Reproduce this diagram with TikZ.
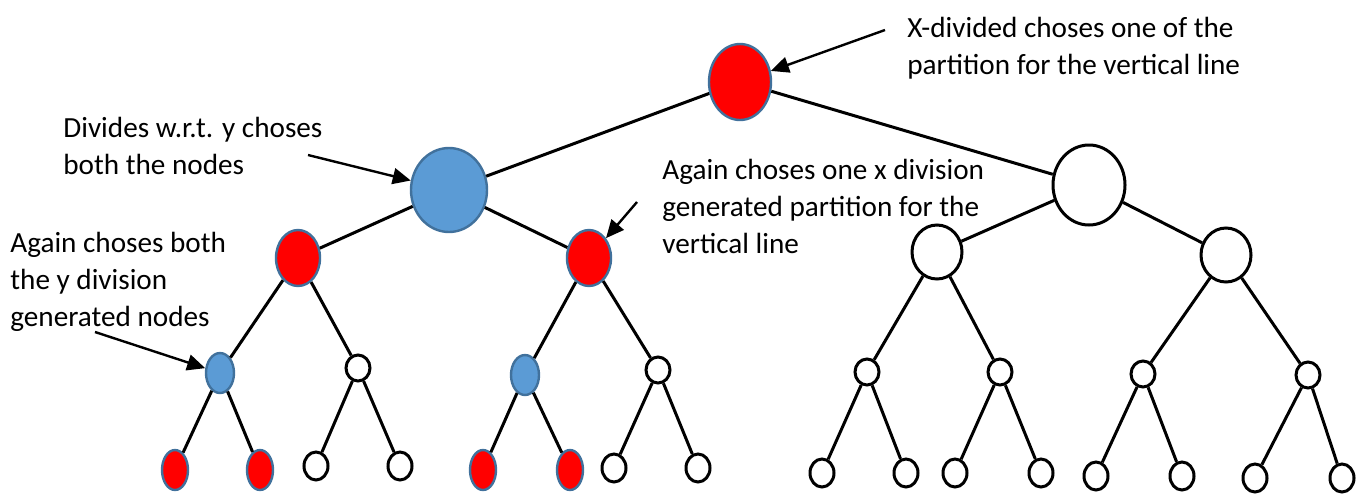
\documentclass[tikz,border=0pt]{standalone}
\usepackage{fontspec}
\setmainfont{Carlito}
\usetikzlibrary{shapes.geometric,arrows.meta}

\begin{document}
\begin{tikzpicture}[x=0.5pt, y=-0.5pt,
    every node/.style={inner sep=0pt},
    vtx/.style={ellipse, line width=1.2pt},
    redv/.style={vtx, draw=nodeedge, fill=red},
    bluev/.style={vtx, draw=nodeedge, fill=nodeblue},
    whitev/.style={vtx, draw=black, fill=white, line width=1.5pt},
    link/.style={black, line width=1.5pt},
    pointer/.style={-{Triangle[length=9pt, width=8pt]}, black, line width=1.2pt},
    note/.style={align=left, anchor=north west, font=\fontsize{14.6}{18.5}\selectfont}]
% Define colors
\definecolor{red}{RGB}{255,0,0}
\definecolor{nodeblue}{RGB}{91,155,213}
\definecolor{nodeedge}{RGB}{65,113,156}

\useasboundingbox (0,0) rectangle (1365,493);

% Top of the tree
\node[redv, minimum width=31pt, minimum height=38pt] (r) at (740,82) {};
\node[bluev, minimum width=38pt, minimum height=42pt] (a) at (449,190) {};
\node[whitev, minimum width=36pt, minimum height=40pt] (b) at (1089,185) {};

% Second level
\node[redv, minimum width=22pt, minimum height=28pt] (aa) at (298,258) {};
\node[redv, minimum width=22pt, minimum height=28pt] (ab) at (589,258) {};
\node[whitev, minimum width=25pt, minimum height=27pt] (ba) at (937,252) {};
\node[whitev, minimum width=25pt, minimum height=27pt] (bb) at (1226,255) {};

% Third level
\node[bluev, minimum width=14pt, minimum height=20pt] (aaa) at (220,373) {};
\node[whitev, minimum width=12pt, minimum height=13pt] (aab) at (358,368) {};
\node[bluev, minimum width=14pt, minimum height=20pt] (aba) at (525,375) {};
\node[whitev, minimum width=12pt, minimum height=13pt] (abb) at (658,370) {};
\node[whitev, minimum width=12pt, minimum height=13pt] (baa) at (867,372) {};
\node[whitev, minimum width=12pt, minimum height=13pt] (bab) at (1000,372) {};
\node[whitev, minimum width=12pt, minimum height=13pt] (bba) at (1143,374) {};
\node[whitev, minimum width=12pt, minimum height=13pt] (bbb) at (1308,375) {};

\draw[link] (r) -- (a);
\draw[link] (r) -- (b);
\draw[link] (a) -- (aa);
\draw[link] (a) -- (ab);
\draw[link] (b) -- (ba);
\draw[link] (b) -- (bb);
\foreach \p in {aa, ab, ba, bb} {
    \draw[link] (\p) -- (\p a);
    \draw[link] (\p) -- (\p b);
}

% Leaves
\foreach \x/\p/\s in {175/aaa/a, 260/aaa/b, 483/aba/a, 570/aba/b} {
    \node[redv, minimum width=13pt, minimum height=20pt] (\p\s) at (\x,470) {};
    \draw[link] (\p) -- (\p\s);
}
\foreach \x/\y/\p/\s in {316/466/aab/a, 400/466/aab/b, 614/468/abb/a, 698/468/abb/b,
        822/473/baa/a, 906/473/baa/b, 955/473/bab/a, 1041/473/bab/b,
        1096/476/bba/a, 1182/476/bba/b, 1255/478/bbb/a, 1342/478/bbb/b} {
    \node[whitev, minimum width=12pt, minimum height=14pt] (\p\s) at (\x,\y) {};
    \draw[link] (\p) -- (\p\s);
}

% Notes and their arrows
\node[note] (n1) at (907,17) {X-divided choses one of the\\partition for the vertical line};
\node[note] (n2) at (63,117) {Divides w.r.t. y choses\\both the nodes};
\node[note] (n3) at (662,159) {Again choses one x division\\generated partition for the\\vertical line};
\node[note] (n4) at (10,232) {Again choses both\\the y division\\generated nodes};

\coordinate (t1) at (885,30);
\coordinate (t2) at (308,155);
\coordinate (t3) at (637,202);
\coordinate (t4) at (95,332);
\draw[pointer] (t1) -- (r);
\draw[pointer] (t2) -- (a);
\draw[pointer] (t3) -- (ab);
\draw[pointer] (t4) -- (aaa);
\end{tikzpicture}
\end{document}
